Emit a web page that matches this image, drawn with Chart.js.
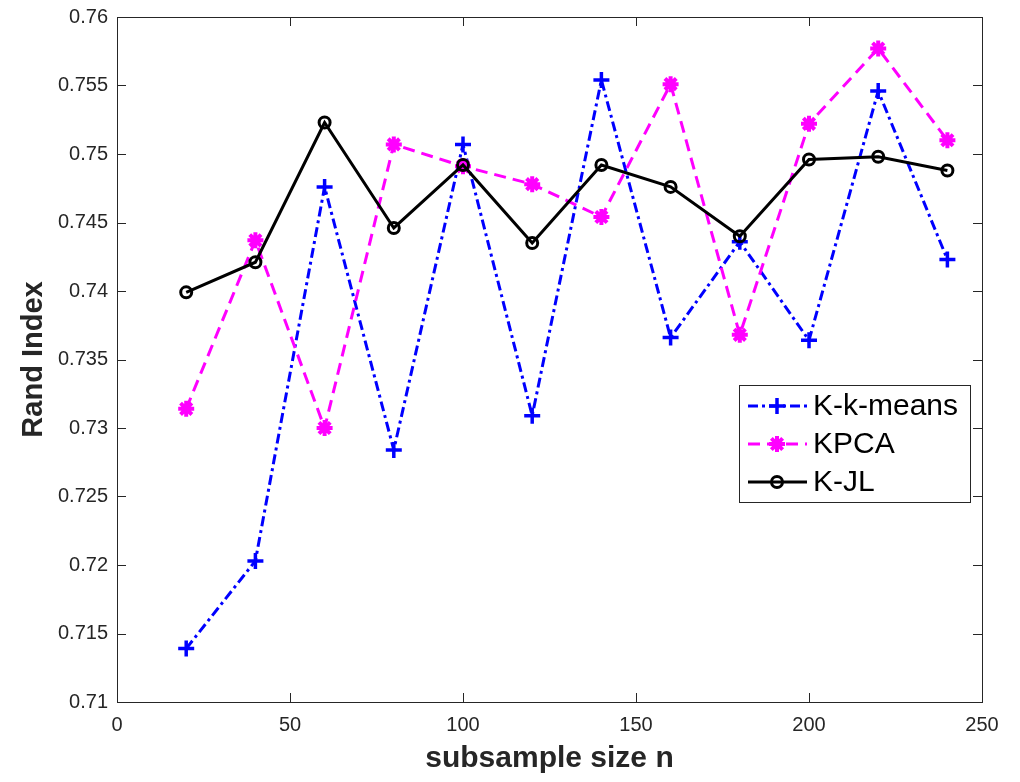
<!DOCTYPE html>
<html>
<head>
<meta charset="utf-8">
<script src="https://cdn.jsdelivr.net/npm/chart.js@4.4.1/dist/chart.umd.min.js"></script>
<style>
  html, body { margin: 0; padding: 0; background: #fff; }
  canvas { display: block; }
</style>
</head>
<body>
<canvas id="myChart" width="1020" height="782"></canvas>
<script>
const sizes = [20, 40, 60, 80, 100, 120, 140, 160, 180, 200, 220, 240];
const kkmeans = [0.7139, 0.7203, 0.7476, 0.7284, 0.7507, 0.7309, 0.7554, 0.7366, 0.7436, 0.7364, 0.7546, 0.7423];
const kpca = [0.7314, 0.7437, 0.7300, 0.7507, 0.7491, 0.7478, 0.7454, 0.7551, 0.7368, 0.7522, 0.7577, 0.7510];
const kjl = [0.7399, 0.7421, 0.7523, 0.7446, 0.7492, 0.7435, 0.7492, 0.7476, 0.7440, 0.7496, 0.7498, 0.7488];

const xTicks = [0, 50, 100, 150, 200, 250];
const yTicks = [0.71, 0.715, 0.72, 0.725, 0.73, 0.735, 0.74, 0.745, 0.75, 0.755, 0.76];

const axisColor = '#262626';
const fontFamily = '"Liberation Sans", Arial, Helvetica, sans-serif';

const toPoints = ys => ys.map((y, i) => ({ x: sizes[i], y }));

const datasets = [];
datasets.push({
  label: 'K-k-means',
  data: toPoints(kkmeans),
  borderColor: '#0000ff',
  backgroundColor: '#0000ff',
  borderWidth: 3,
  borderDash: [10, 4, 3, 4],
  pointStyle: 'cross',
  pointRadius: 8,
  pointBorderWidth: 3.5,
  order: 3,
});
datasets.push({
  label: 'KPCA',
  data: toPoints(kpca),
  borderColor: '#ff00ff',
  backgroundColor: '#ff00ff',
  borderWidth: 3,
  borderDash: [12, 7],
  pointStyle: 'star',
  pointRadius: 8,
  pointBorderWidth: 4,
  order: 2,
});
datasets.push({
  label: 'K-JL',
  data: toPoints(kjl),
  borderColor: '#000000',
  backgroundColor: 'rgba(0,0,0,0)',
  borderWidth: 3,
  pointStyle: 'circle',
  pointRadius: 5.5,
  pointBorderWidth: 3,
  order: 1,
});

// box, inward ticks on all four sides, and an in-plot legend like MATLAB's
const matlabAxes = {
  id: 'matlabAxes',
  afterDatasetsDraw(chart) {
    const { ctx, chartArea: a, scales } = chart;
    ctx.save();
    ctx.strokeStyle = axisColor;
    ctx.lineWidth = 1;
    ctx.beginPath();
    const tl = 9;
    xTicks.forEach(v => {
      const px = Math.round(scales.x.getPixelForValue(v)) + 0.5;
      ctx.moveTo(px, a.bottom); ctx.lineTo(px, a.bottom - tl);
      ctx.moveTo(px, a.top); ctx.lineTo(px, a.top + tl);
    });
    yTicks.forEach(v => {
      const py = Math.round(scales.y.getPixelForValue(v)) + 0.5;
      ctx.moveTo(a.left, py); ctx.lineTo(a.left + tl, py);
      ctx.moveTo(a.right, py); ctx.lineTo(a.right - tl, py);
    });
    ctx.stroke();
    ctx.strokeRect(Math.round(a.left) + 0.5, Math.round(a.top) + 0.5,
      Math.round(a.right - a.left), Math.round(a.bottom - a.top));
    ctx.restore();
  },
  afterDraw(chart) {
    const { ctx } = chart;
    const box = { x: 739, y: 385, w: 231, h: 117 };
    ctx.save();
    ctx.fillStyle = '#ffffff';
    ctx.fillRect(box.x, box.y, box.w, box.h);
    ctx.strokeStyle = axisColor;
    ctx.lineWidth = 1;
    ctx.strokeRect(box.x + 0.5, box.y + 0.5, box.w, box.h);
    const rows = [406, 444, 482];
    chart.data.datasets.forEach((ds, i) => {
      const y = rows[i];
      ctx.strokeStyle = ds.borderColor;
      ctx.lineWidth = ds.borderWidth;
      ctx.setLineDash(ds.borderDash || []);
      ctx.beginPath();
      ctx.moveTo(748, y);
      ctx.lineTo(807, y);
      ctx.stroke();
      ctx.setLineDash([]);
      ctx.fillStyle = ds.backgroundColor;
      ctx.lineWidth = ds.pointBorderWidth;
      Chart.helpers.drawPoint(ctx, {
        pointStyle: ds.pointStyle,
        radius: ds.pointRadius,
        rotation: 0,
        borderWidth: ds.pointBorderWidth,
      }, 777, y);
      ctx.fillStyle = '#000000';
      ctx.font = '30px ' + fontFamily;
      ctx.textBaseline = 'middle';
      ctx.textAlign = 'left';
      ctx.fillText(ds.label, 813, y + 1);
    });
    ctx.restore();
  },
};

const config = {
  type: 'line',
  data: { datasets },
  options: {
    responsive: false,
    animation: false,
    layout: { padding: { left: 0, top: 17, right: 38, bottom: 0 } },
    plugins: {
      legend: { display: false },
      tooltip: { enabled: false },
    },
    elements: { line: { tension: 0, fill: false } },
    scales: {
      x: {
        type: 'linear',
        min: 0,
        max: 250,
        afterBuildTicks: scale => { scale.ticks = xTicks.map(v => ({ value: v })); },
        afterFit: scale => { scale.height = 80; },
        grid: { display: false, drawTicks: false },
        border: { display: false },
        ticks: {
          color: axisColor,
          padding: 11,
          maxRotation: 0,
          font: { family: fontFamily, size: 20 },
        },
        title: {
          display: true,
          text: 'subsample size n',
          color: axisColor,
          padding: { top: 0, bottom: 8 },
          font: { family: fontFamily, size: 30, weight: 'bold', lineHeight: 1 },
        },
      },
      y: {
        min: 0.71,
        max: 0.76,
        afterBuildTicks: scale => { scale.ticks = yTicks.map(v => ({ value: v })); },
        afterFit: scale => { scale.width = 117; },
        grid: { display: false, drawTicks: false },
        border: { display: false },
        ticks: {
          color: axisColor,
          padding: 9,
          font: { family: fontFamily, size: 20, lineHeight: 0.8 },
          callback: v => String(Number(v.toFixed(3))),
        },
        title: {
          display: true,
          text: 'Rand Index',
          color: axisColor,
          padding: { top: 19, bottom: 0 },
          font: { family: fontFamily, size: 29, weight: 'bold', lineHeight: 1 },
        },
      },
    },
  },
  plugins: [matlabAxes],
};

const ctx = document.getElementById('myChart').getContext('2d');
const myChart = new Chart(ctx, config);
</script>
</body>
</html>
